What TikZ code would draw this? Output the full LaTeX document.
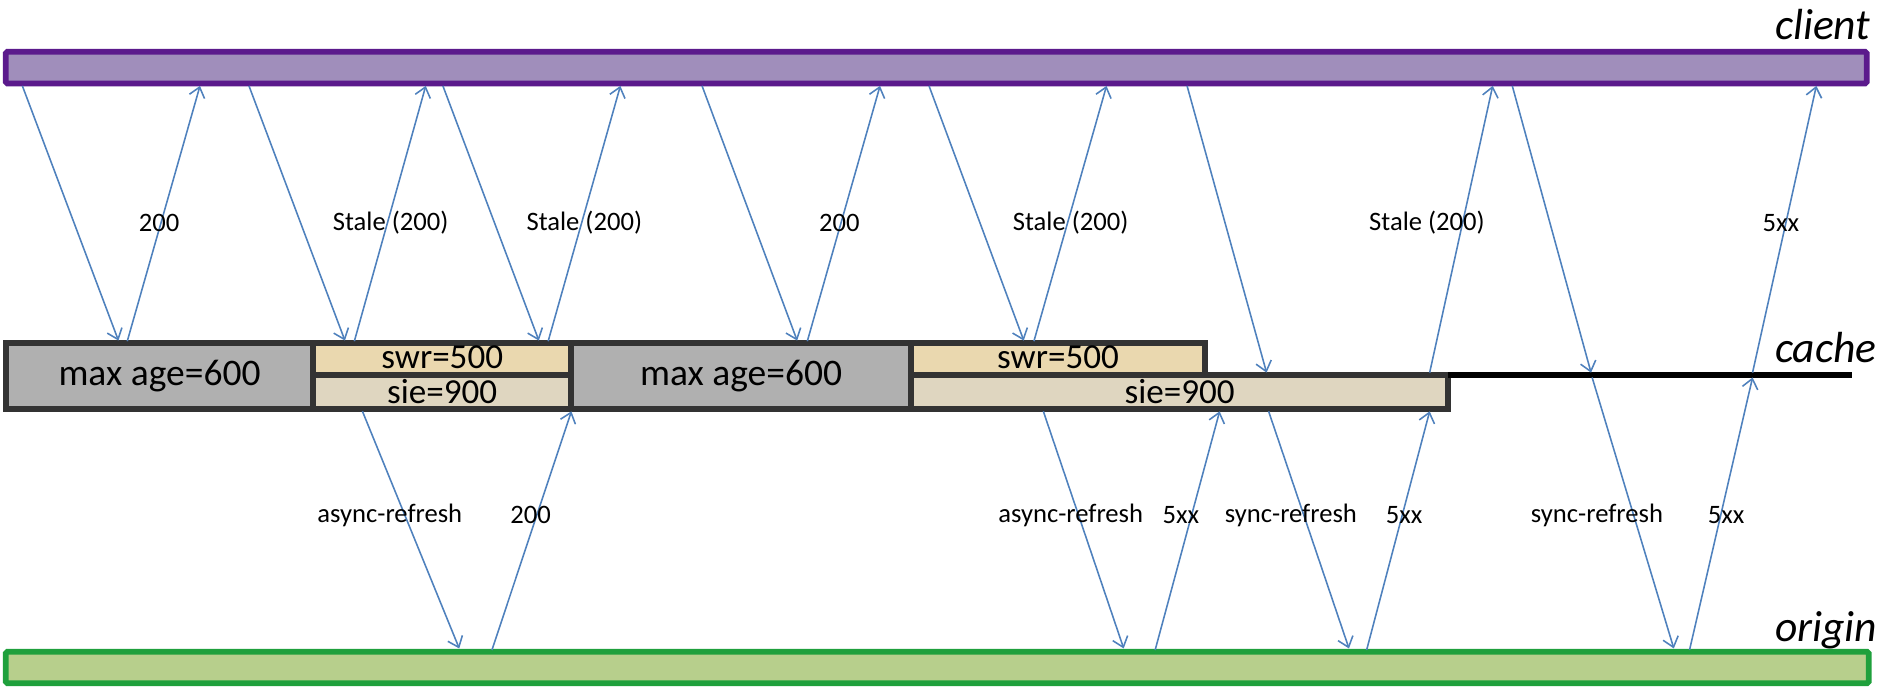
\documentclass[tikz,border=0pt]{standalone}
\usepackage{fontspec}
\setmainfont{Carlito}
\usetikzlibrary{arrows.meta}
\definecolor{arrowblue}{HTML}{4F81BD}
\definecolor{clientfill}{HTML}{A08EBB}
\definecolor{clientdraw}{HTML}{5B1A8C}
\definecolor{originfill}{HTML}{B7CF8C}
\definecolor{origindraw}{HTML}{1FA03C}
\definecolor{boxdraw}{HTML}{333333}
\definecolor{agefill}{HTML}{B0B0B0}
\definecolor{swrfill}{HTML}{EAD8AF}
\definecolor{siefill}{HTML}{DFD6C0}
\begin{document}
\begin{tikzpicture}[x=1pt,y=-1pt,
  bar/.style={rectangle, inner sep=0pt, line width=4.8pt, rounded corners=1.5pt},
  cbox/.style={rectangle, inner sep=0pt, draw=boxdraw, line width=4.8pt},
  boxtext/.style={font=\fontsize{31}{34}\selectfont, inner sep=0pt},
  smalltext/.style={font=\fontsize{29}{30}\selectfont, inner sep=0pt},
  lbl/.style={font=\fontsize{22}{24}\selectfont, text=black, inner sep=0pt},
  tier/.style={font=\fontsize{36}{40}\selectfont\itshape, inner sep=0pt, anchor=base west},
  arr/.style={draw=arrowblue, line width=1.3pt, -{Straight Barb[length=8pt,width=13pt]}}
]
\useasboundingbox (0,0) rectangle (1568,568);

% tiers
\node[bar, draw=clientdraw, fill=clientfill, minimum width=1538.3pt, minimum height=26.3pt] (client) at (773.85,55.85) {};
\node[bar, draw=origindraw, fill=originfill, minimum width=1539.9pt, minimum height=26.1pt] (origin) at (774.65,551.75) {};

% cache boxes
\node[cbox, fill=siefill, minimum width=444pt, minimum height=27.8pt] (sie2) at (975,323.9) {};
\node[cbox, fill=swrfill, minimum width=243pt, minimum height=26.7pt] (swr2) at (874.5,296.65) {};
\node[cbox, fill=siefill, minimum width=213pt, minimum height=27.8pt] (sie1) at (365.5,323.9) {};
\node[cbox, fill=swrfill, minimum width=213pt, minimum height=26.7pt] (swr1) at (365.5,296.65) {};
\node[cbox, fill=agefill, minimum width=254.3pt, minimum height=54.5pt] (age1) at (131.85,310.55) {};
\node[cbox, fill=agefill, minimum width=281pt, minimum height=54.5pt] (age2) at (612.5,310.55) {};
\coordinate (lineA) at (1197,310);
\coordinate (lineB) at (1531,310);
\draw[line width=4.5pt, black] (lineA) -- (lineB);

\node[boxtext] (t1) at (age1.center) {max age=600};
\node[boxtext] (t2) at (age2.center) {max age=600};
\node[smalltext] (t3) at ([yshift=1.5pt]swr1.center) {swr=500};
\node[smalltext] (t4) at ([yshift=1.5pt]swr2.center) {swr=500};
\node[smalltext] (t5) at (sie1.center) {sie=900};
\node[smalltext] (t6) at (sie2.center) {sie=900};

% tier names
\node[tier] (nclient) at (1467,32.5) {client};
\node[tier] (ncache) at (1467,300) {cache};
\node[tier] (norigin) at (1467,530) {origin};

% arrows
\foreach \n/\xa/\ya/\xb/\yb in {
  d1/18.5/71/97.9/281.5, u1/105.2/282/165.3/71,
  d2/205.8/71/285.1/281.5, u2/292.9/282/351.9/71,
  d3/366.1/71/445.4/281.5, u3/453.1/282/512.8/71,
  d4/580.3/71/658.9/281.5, u4/667.3/282/727.4/71,
  d5/767.9/71/846.2/281.5, u5/854.6/282/914.6/71,
  d6/981.2/71/1046.9/308, u6/1181.7/308/1233.8/71,
  d7/1250/71/1315.1/308, d8/1316/312/1383.5/536,
  u7/1396.5/537.3/1448.6/312, u8/1448.6/308/1501.3/71,
  a1/299.6/340/379.6/536, r1/406.6/537.3/472.3/340,
  a2/862.4/340/928.8/536, r2/954.8/537.3/1008.1/340,
  s1/1048.6/340/1115/536, r3/1129.6/537.3/1181.7/340}
{
  \coordinate (\n s) at (\xa,\ya);
  \coordinate (\n e) at (\xb,\yb);
  \draw[arr] (\n s) -- (\n e);
}

% labels
\node[lbl] (l1) at (131.6,184) {200};
\node[lbl] (l2) at (322.9,184) {Stale (200)};
\node[lbl] (l3) at (483,184) {Stale (200)};
\node[lbl] (l4) at (693.7,184) {200};
\node[lbl] (l5) at (885,184) {Stale (200)};
\node[lbl] (l6) at (1179.5,184) {Stale (200)};
\node[lbl] (l7) at (1472,184) {5xx};
\node[lbl] (b1) at (322.2,425.7) {async-refresh};
\node[lbl] (b2) at (438.6,425.7) {200};
\node[lbl] (b3) at (885,425.7) {async-refresh};
\node[lbl] (b4) at (976,425.7) {5xx};
\node[lbl] (b5) at (1067,425.7) {sync-refresh};
\node[lbl] (b6) at (1160.6,425.7) {5xx};
\node[lbl] (b7) at (1320,425.7) {sync-refresh};
\node[lbl] (b8) at (1426.8,425.7) {5xx};
\end{tikzpicture}
\end{document}
